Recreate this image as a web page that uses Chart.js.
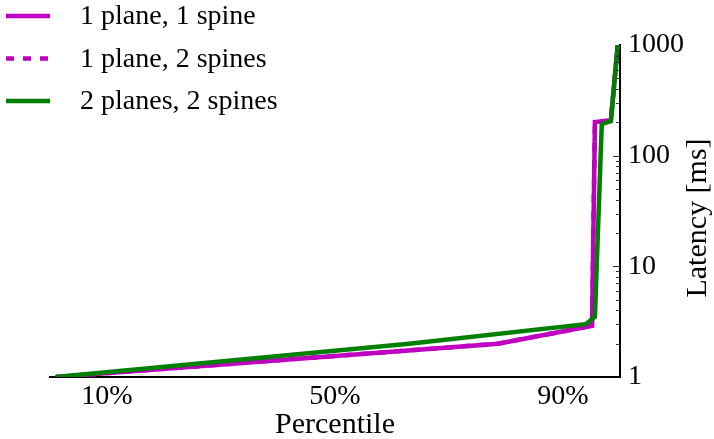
<!DOCTYPE html>
<html>
<head>
<meta charset="utf-8">
<script src="https://cdn.jsdelivr.net/npm/chart.js@4"></script>
<style>
  html, body { margin: 0; padding: 0; background: #fff; }
  #wrap { width: 714px; height: 439px; position: relative; }
</style>
</head>
<body>
<div id="wrap"><canvas id="c" width="714" height="439"></canvas></div>
<script>
// percentile (x) and latency in ms (y) for each series
const seriesNames = ['1 plane, 1 spine', '1 plane, 2 spines', '2 planes, 2 spines'];
const pct1p1s = [1, 78.6, 95.1, 95.6, 98.4, 99.6];
const lat1p1s = [1.0, 2.0, 2.9, 201, 208, 1000];
const pct1p2s = [1, 78.6, 95.1, 95.6, 98.4, 99.6];
const lat1p2s = [1.0, 2.0, 2.9, 201, 208, 1000];
const pct2p2s = [1, 63, 94, 95.6, 96.8, 98.4, 99.6];
const lat2p2s = [1.0, 2.0, 3.0, 3.5, 193, 205, 1000];
const xTicks = [10, 50, 90];
const yTicks = [1, 10, 100, 1000];

const serif = '"Liberation Serif", "DejaVu Serif", serif';
const magenta = '#c000c0';
const green = '#008000';

const pts = (xs, ys) => xs.map((x, i) => ({ x: x, y: ys[i] }));

// legend drawn in the top left corner, over the plot
const legendPlugin = {
  id: 'cornerLegend',
  afterDraw(chart) {
    const ctx = chart.ctx;
    const items = [
      { label: seriesNames[0], color: magenta, dash: [] },
      { label: seriesNames[1], color: magenta, dash: [8, 9] },
      { label: seriesNames[2], color: green, dash: [] }
    ];
    ctx.save();
    ctx.font = '28px ' + serif;
    ctx.textBaseline = 'middle';
    items.forEach((it, i) => {
      const y = 16 + i * 42.5;
      ctx.strokeStyle = it.color;
      ctx.lineWidth = 4.5;
      ctx.setLineDash(it.dash);
      ctx.beginPath();
      ctx.moveTo(6, y);
      ctx.lineTo(50, y);
      ctx.stroke();
      ctx.setLineDash([]);
      ctx.fillStyle = '#000';
      ctx.fillText(it.label, 80, y + 1);
    });
    ctx.restore();
  }
};

// minor ticks inside the right axis + rotated axis title
const axisExtras = {
  id: 'axisExtras',
  afterDraw(chart) {
    const ctx = chart.ctx;
    const ys = chart.scales.y;
    const area = chart.chartArea;
    ctx.save();
    ctx.strokeStyle = '#333';
    ctx.lineWidth = 1;
    for (let d = 1; d < 1000; d *= 10) {
      for (let m = 1; m <= 10; m++) {
        const v = d * m;
        if (v <= 1 || v >= 1000) continue;
        const py = Math.round(ys.getPixelForValue(v)) + 0.5;
        const len = m === 10 ? 7 : 4;
        ctx.beginPath();
        ctx.moveTo(area.right, py);
        ctx.lineTo(area.right - len, py);
        ctx.stroke();
      }
    }
    ctx.fillStyle = '#000';
    ctx.font = '30px ' + serif;
    ctx.textAlign = 'center';
    ctx.textBaseline = 'middle';
    ctx.translate(698, (area.top + area.bottom) / 2 + 7);
    ctx.rotate(-Math.PI / 2);
    ctx.fillText('Latency [ms]', 0, 0);
    ctx.restore();
  }
};

new Chart(document.getElementById('c'), {
  type: 'line',
  data: {
    datasets: [
      {
        label: seriesNames[2], data: pts(pct2p2s, lat2p2s), order: 0,
        borderColor: green, borderWidth: 4.5, pointRadius: 0, tension: 0, fill: false
      },
      {
        label: seriesNames[0], data: pts(pct1p1s, lat1p1s), order: 1,
        borderColor: magenta, borderWidth: 4.5, pointRadius: 0, tension: 0, fill: false
      },
      {
        label: seriesNames[1], data: pts(pct1p2s, lat1p2s), order: 2,
        borderColor: magenta, borderWidth: 4.5, borderDash: [8, 9], pointRadius: 0, tension: 0, fill: false
      }
    ]
  },
  options: {
    responsive: false,
    animation: false,
    events: [],
    layout: { padding: { left: 50, top: 45, right: 0, bottom: 0 } },
    plugins: { legend: { display: false }, tooltip: { enabled: false } },
    scales: {
      x: {
        type: 'linear', min: 0, max: 100,
        grid: { display: false, drawTicks: false },
        border: { display: true, color: '#000', width: 2 },
        afterBuildTicks: s => { s.ticks = xTicks.map(v => ({ value: v })); },
        afterFit: s => { s.height = 62; },
        ticks: {
          color: '#000', padding: 3, maxRotation: 0,
          font: { family: serif, size: 28 },
          callback: v => v + '%'
        },
        title: {
          display: true, text: 'Percentile', color: '#000',
          font: { family: serif, size: 30 }, padding: { top: 0, bottom: -4 }
        }
      },
      y: {
        type: 'logarithmic', position: 'right', min: 1, max: 1000,
        grid: { display: false, drawTicks: false },
        border: { display: true, color: '#000', width: 2 },
        afterBuildTicks: s => { s.ticks = yTicks.map(v => ({ value: v })); },
        afterFit: s => { s.width = 94; },
        ticks: {
          color: '#000', padding: 8,
          font: { family: serif, size: 28 },
          callback: v => String(v)
        }
      }
    }
  },
  plugins: [legendPlugin, axisExtras]
});
</script>
</body>
</html>
